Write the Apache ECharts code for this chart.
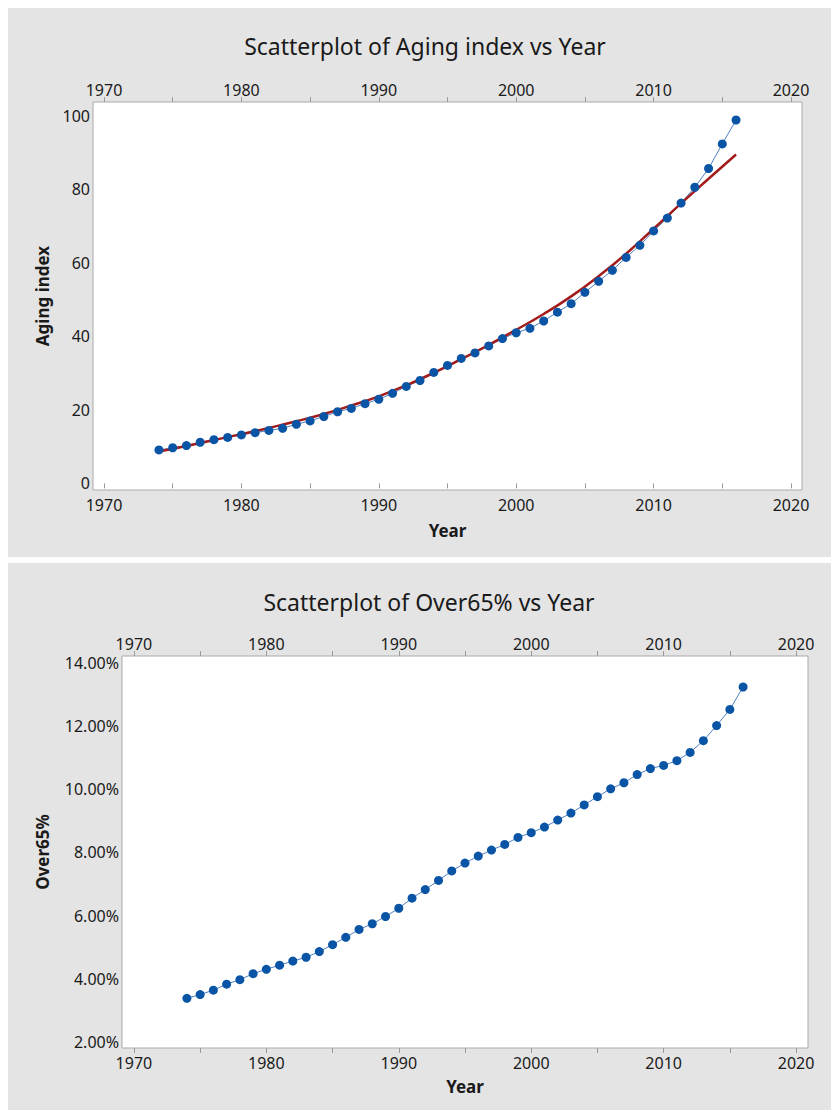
<!DOCTYPE html>
<html>
<head>
<meta charset="utf-8">
<script src="https://cdn.jsdelivr.net/npm/echarts@6/dist/echarts.min.js"></script>
<style>
  html, body { margin: 0; padding: 0; background: #ffffff; }
  #wrap { position: relative; width: 831px; height: 1110px; }
  .panel { position: absolute; background: #e4e4e4; }
  #chart { position: absolute; left: 0; top: 0; width: 831px; height: 1110px; }
</style>
</head>
<body>
<div id="wrap">
  <div class="panel" style="left:8px; top:8px; width:823px; height:549px;"></div>
  <div class="panel" style="left:8px; top:563px; width:823px; height:547px;"></div>
  <div id="chart"></div>
</div>
<script>
// Observation years
var years = [1974, 1975, 1976, 1977, 1978, 1979, 1980, 1981, 1982, 1983,
             1984, 1985, 1986, 1987, 1988, 1989, 1990, 1991, 1992, 1993,
             1994, 1995, 1996, 1997, 1998, 1999, 2000, 2001, 2002, 2003,
             2004, 2005, 2006, 2007, 2008, 2009, 2010, 2011, 2012, 2013,
             2014, 2015, 2016];

// Aging index per year
var agingIndex = [9.1, 9.7, 10.3, 11.2, 11.9, 12.5, 13.2, 13.8, 14.4, 15.0,
                  16.1, 17.0, 18.2, 19.5, 20.4, 21.7, 22.9, 24.5, 26.4, 28.0,
                  30.2, 32.1, 34.0, 35.5, 37.4, 39.4, 41.0, 42.2, 44.2, 46.6,
                  48.9, 52.0, 55.0, 58.0, 61.5, 64.8, 68.7, 72.2, 76.3, 80.6,
                  85.7, 92.4, 98.9];

// Fitted trend for the aging index
var fitYears = [1974, 1976, 1978, 1980, 1982, 1984, 1986, 1988, 1990, 1992, 1994,
                1996, 1998, 2000, 2002, 2004, 2006, 2008, 2010, 2012, 2014, 2016];
var fitValues = [8.7, 10.2, 11.8, 13.4, 15.1, 16.9, 18.9, 21.2, 23.7, 26.7, 30.1,
                 33.8, 37.7, 41.8, 46.1, 50.9, 56.4, 62.5, 69.3, 76.2, 82.9, 89.5];

// Share of population aged 65 and over (percent)
var over65 = [3.38, 3.50, 3.64, 3.83, 3.97, 4.16, 4.30, 4.43, 4.56, 4.68,
              4.86, 5.08, 5.31, 5.56, 5.74, 5.97, 6.23, 6.55, 6.82, 7.11,
              7.41, 7.66, 7.88, 8.07, 8.25, 8.47, 8.62, 8.80, 9.02, 9.24,
              9.50, 9.76, 10.01, 10.20, 10.46, 10.65, 10.75, 10.90, 11.16, 11.53,
              12.01, 12.52, 13.23];

// Axis ticks and labels
var yearLabels = [1970, 1980, 1990, 2000, 2010, 2020];
var yearTickMarks = [1970, 1975, 1980, 1985, 1990, 1995, 2000, 2005, 2010, 2015, 2020];
var agingLabels = [0, 20, 40, 60, 80, 100];
var over65Labels = [2, 4, 6, 8, 10, 12, 14];

var FONT = '"Noto Sans", "Open Sans", sans-serif';
var TEXT = '#1a1a1a';
var POINT = '#0a54a5';
var CONNECT = '#4f7fc2';
var FIT = '#a21c1c';

function pairs(xs, ys) {
  return xs.map(function (x, i) { return [x, ys[i]]; });
}

function yearAxis(gridIndex, position, min, max, withName, nameGap) {
  return {
    type: 'value',
    gridIndex: gridIndex,
    position: position,
    min: min,
    max: max,
    axisLine: { show: false },
    splitLine: { show: false },
    axisTick: {
      show: true,
      customValues: yearTickMarks,
      length: 5,
      lineStyle: { color: '#9a9a9a', width: 1 }
    },
    axisLabel: {
      customValues: yearLabels,
      margin: position === 'top' ? 4 : 7,
      fontFamily: FONT,
      fontSize: 16,
      color: TEXT,
      formatter: function (v) { return String(v); }
    },
    name: withName ? 'Year' : '',
    nameLocation: 'middle',
    nameGap: nameGap || 30,
    nameTextStyle: { fontFamily: FONT, fontSize: 17, fontWeight: 'bold', color: TEXT }
  };
}

var chart = echarts.init(document.getElementById('chart'), null, { renderer: 'svg' });

chart.setOption({
  animation: false,
  backgroundColor: 'transparent',
  graphic: [
    {
      type: 'text', x: 425, y: 46,
      style: {
        text: 'Scatterplot of Aging index vs Year',
        font: '23px ' + FONT, fill: TEXT,
        textAlign: 'center', textVerticalAlign: 'middle'
      }
    },
    {
      type: 'text', x: 429, y: 602,
      style: {
        text: 'Scatterplot of Over65% vs Year',
        font: '23px ' + FONT, fill: TEXT,
        textAlign: 'center', textVerticalAlign: 'middle'
      }
    }
  ],
  grid: [
    {
      left: 93, top: 102, right: 29, bottom: 620,
      show: true, backgroundColor: '#ffffff',
      borderColor: '#aaaaaa', borderWidth: 1
    },
    {
      left: 122, top: 656, right: 23, bottom: 62,
      show: true, backgroundColor: '#ffffff',
      borderColor: '#aaaaaa', borderWidth: 1
    }
  ],
  xAxis: [
    yearAxis(0, 'bottom', 1969.2, 2020.8, true, 32),
    yearAxis(0, 'top', 1969.2, 2020.8, false),
    yearAxis(1, 'bottom', 1969.1, 2020.9, true, 30),
    yearAxis(1, 'top', 1969.1, 2020.9, false)
  ],
  yAxis: [
    {
      type: 'value', gridIndex: 0, min: -1.8, max: 103.8,
      axisLine: { show: false }, axisTick: { show: false }, splitLine: { show: false },
      axisLabel: {
        customValues: agingLabels, margin: 3,
        fontFamily: FONT, fontSize: 16, color: TEXT,
        formatter: function (v) { return String(v); }
      },
      name: 'Aging index', nameLocation: 'middle', nameGap: 42,
      nameTextStyle: { fontFamily: FONT, fontSize: 17, fontWeight: 'bold', color: TEXT }
    },
    {
      type: 'value', gridIndex: 1, min: 1.81, max: 14.21,
      axisLine: { show: false }, axisTick: { show: false }, splitLine: { show: false },
      axisLabel: {
        customValues: over65Labels, margin: 3,
        fontFamily: FONT, fontSize: 16, color: TEXT,
        formatter: function (v) { return v.toFixed(2) + '%'; }
      },
      name: 'Over65%', nameLocation: 'middle', nameGap: 71,
      nameTextStyle: { fontFamily: FONT, fontSize: 17, fontWeight: 'bold', color: TEXT }
    }
  ],
  series: [
    {
      type: 'line', xAxisIndex: 0, yAxisIndex: 0,
      data: pairs(years, agingIndex),
      showSymbol: false, silent: true, z: 2,
      lineStyle: { color: CONNECT, width: 1 }
    },
    {
      type: 'line', xAxisIndex: 0, yAxisIndex: 0,
      data: pairs(fitYears, fitValues),
      smooth: true, showSymbol: false, silent: true, z: 3,
      lineStyle: { color: FIT, width: 2.5 }
    },
    {
      type: 'scatter', xAxisIndex: 0, yAxisIndex: 0,
      data: pairs(years, agingIndex),
      symbol: 'circle', symbolSize: 9, z: 4,
      itemStyle: { color: POINT, opacity: 1 }
    },
    {
      type: 'line', xAxisIndex: 2, yAxisIndex: 1,
      data: pairs(years, over65),
      showSymbol: false, silent: true, z: 2,
      lineStyle: { color: CONNECT, width: 1 }
    },
    {
      type: 'scatter', xAxisIndex: 2, yAxisIndex: 1,
      data: pairs(years, over65),
      symbol: 'circle', symbolSize: 9, z: 4,
      itemStyle: { color: POINT, opacity: 1 }
    }
  ]
});
</script>
</body>
</html>
